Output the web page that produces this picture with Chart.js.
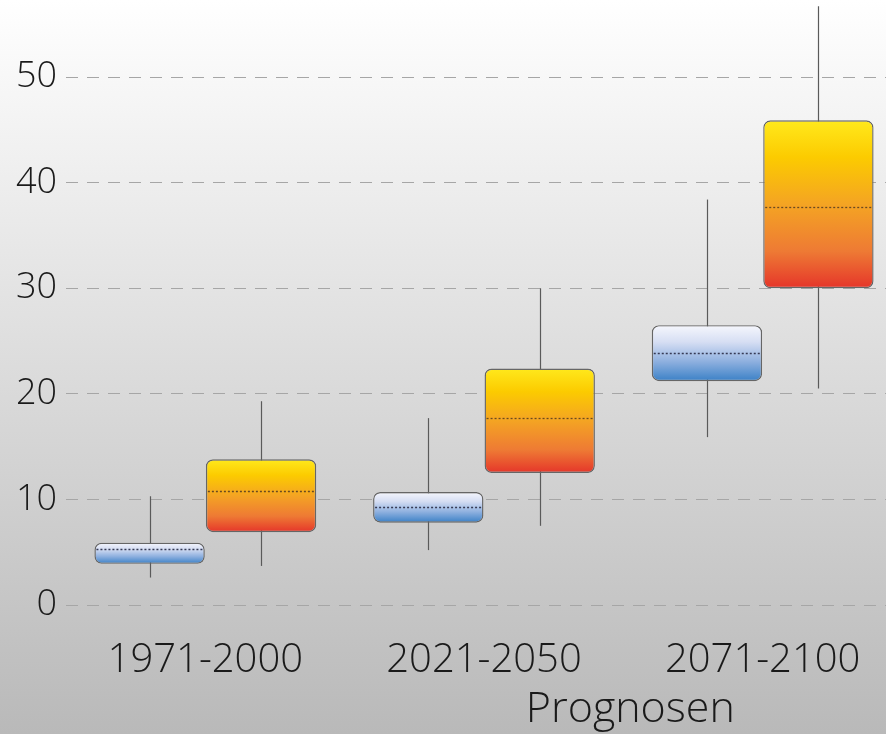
<!DOCTYPE html>
<html>
<head>
<meta charset="utf-8">
<script src="https://cdn.jsdelivr.net/npm/chart.js@4"></script>
<style>
html,body{margin:0;padding:0;overflow:hidden;width:886px;height:734px;}
#wrap{position:relative;width:902px;height:734px;}
</style>
</head>
<body>
<div id="wrap"><canvas id="c"></canvas></div>
<script>
const categories = ['1971-2000', '2021-2050', '2071-2100'];
const yTicks = [0, 10, 20, 30, 40, 50];
// blue series
const blueMin = [2.6, 5.2, 15.9];
const blueQ1 = [3.9, 7.8, 21.2];
const blueMed = [5.3, 9.3, 23.9];
const blueQ3 = [5.9, 10.7, 26.5];
const blueMax = [10.3, 17.7, 38.4];
// orange series
const orangeMin = [3.7, 7.5, 20.5];
const orangeQ1 = [6.9, 12.5, 30.0];
const orangeMed = [10.8, 17.7, 37.7];
const orangeQ3 = [13.8, 22.4, 45.9];
const orangeMax = [19.3, 30.0, 56.7];
const groupTitle = 'Prognosen';

const FONT = "'Open Sans', 'Segoe UI', sans-serif";

function gradFill(stops) {
  return function(ctx) {
    const chart = ctx.chart;
    if (!chart.chartArea || ctx.type !== 'data') return stops[stops.length - 1][1];
    const v = ctx.raw;
    const y = chart.scales.y;
    const top = y.getPixelForValue(v[1]);
    const bot = y.getPixelForValue(v[0]);
    const g = chart.ctx.createLinearGradient(0, top, 0, bot);
    stops.forEach(s => g.addColorStop(s[0], s[1]));
    return g;
  };
}

const blueStops = [[0, '#f6f7fd'], [0.3, '#d6def3'], [0.65, '#8eb0df'], [1, '#3a80c6']];
const orangeStops = [[0, '#ffe91c'], [0.22, '#fccb00'], [0.5, '#f4a423'], [0.78, '#ee7a34'], [1, '#e5352a']];

const extras = [
  {min: blueMin, med: blueMed, max: blueMax, medColor: '#363b55'},
  {min: orangeMin, med: orangeMed, max: orangeMax, medColor: '#6a4a20'}
];

const bgPlugin = {
  id: 'bg',
  beforeDraw(chart) {
    const c = chart.ctx;
    const g = c.createLinearGradient(0, 0, 0, chart.height);
    g.addColorStop(0, '#ffffff');
    g.addColorStop(0.5, '#dcdcdc');
    g.addColorStop(1, '#b9b9b9');
    c.save();
    c.fillStyle = g;
    c.fillRect(0, 0, chart.width, chart.height);
    c.restore();
  }
};

const boxPlugin = {
  id: 'boxExtras',
  beforeDatasetsDraw(chart) {
    const c = chart.ctx;
    const y = chart.scales.y;
    c.save();
    c.strokeStyle = '#5a5a5a';
    c.lineWidth = 1.2;
    extras.forEach((ex, di) => {
      const meta = chart.getDatasetMeta(di);
      meta.data.forEach((el, i) => {
        const x = Math.round(el.x) + 0.5;
        c.beginPath();
        c.moveTo(x, y.getPixelForValue(ex.min[i]));
        c.lineTo(x, y.getPixelForValue(ex.max[i]));
        c.stroke();
      });
    });
    c.restore();
  },
  afterDatasetsDraw(chart) {
    const c = chart.ctx;
    const y = chart.scales.y;
    c.save();
    c.lineWidth = 1.3;
    c.setLineDash([2, 2]);
    extras.forEach((ex, di) => {
      const meta = chart.getDatasetMeta(di);
      c.strokeStyle = ex.medColor;
      meta.data.forEach((el, i) => {
        const py = Math.round(y.getPixelForValue(ex.med[i])) + 0.5;
        c.beginPath();
        c.moveTo(el.x - el.width / 2 + 2, py);
        c.lineTo(el.x + el.width / 2 - 2, py);
        c.stroke();
      });
    });
    c.restore();
  },
  afterDraw(chart) {
    const c = chart.ctx;
    const x = chart.scales.x;
    const cx = (x.getPixelForValue(1) + x.getPixelForValue(2)) / 2 + 7;
    c.save();
    c.font = "300 43px " + FONT;
    c.fillStyle = '#1a1a1a';
    c.textAlign = 'center';
    c.textBaseline = 'alphabetic';
    c.fillText(groupTitle, cx, 722);
    c.restore();
  }
};

new Chart(document.getElementById('c'), {
  type: 'bar',
  data: {
    labels: categories,
    datasets: [
      {
        data: blueQ1.map((v, i) => [v, blueQ3[i]]),
        backgroundColor: gradFill(blueStops),
        borderColor: '#666666',
        borderWidth: 1.4,
        borderRadius: 7,
        borderSkipped: false,
        barPercentage: 0.99,
        categoryPercentage: 0.8
      },
      {
        data: orangeQ1.map((v, i) => [v, orangeQ3[i]]),
        backgroundColor: gradFill(orangeStops),
        borderColor: '#666666',
        borderWidth: 1.4,
        borderRadius: 7,
        borderSkipped: false,
        barPercentage: 0.99,
        categoryPercentage: 0.8
      }
    ]
  },
  options: {
    responsive: true,
    maintainAspectRatio: false,
    animation: false,
    layout: {padding: 0},
    plugins: {legend: {display: false}, tooltip: {enabled: false}},
    scales: {
      x: {
        grid: {display: false},
        border: {display: false},
        ticks: {
          color: '#1a1a1a',
          font: {family: FONT, size: 40, weight: '300'},
          padding: 24,
          maxRotation: 0
        },
        afterFit(scale) { scale.height = 129; scale.paddingLeft = 0; scale.paddingRight = 0; }
      },
      y: {
        min: 0,
        max: 57.3,
        grid: {
          color: '#a6a6a6',
          lineWidth: 1,
          drawTicks: false
        },
        border: {display: false, dash: [12, 9]},
        ticks: {
          stepSize: 10,
          color: '#1a1a1a',
          padding: 9,
          font: {family: FONT, size: 36, weight: '300'}
        },
        afterBuildTicks(scale) {
          scale.ticks = yTicks.map(v => ({value: v}));
        },
        afterFit(scale) { scale.width = 66; scale.paddingTop = 0; scale.paddingBottom = 0; }
      }
    }
  },
  plugins: [bgPlugin, boxPlugin]
});
</script>
</body>
</html>
